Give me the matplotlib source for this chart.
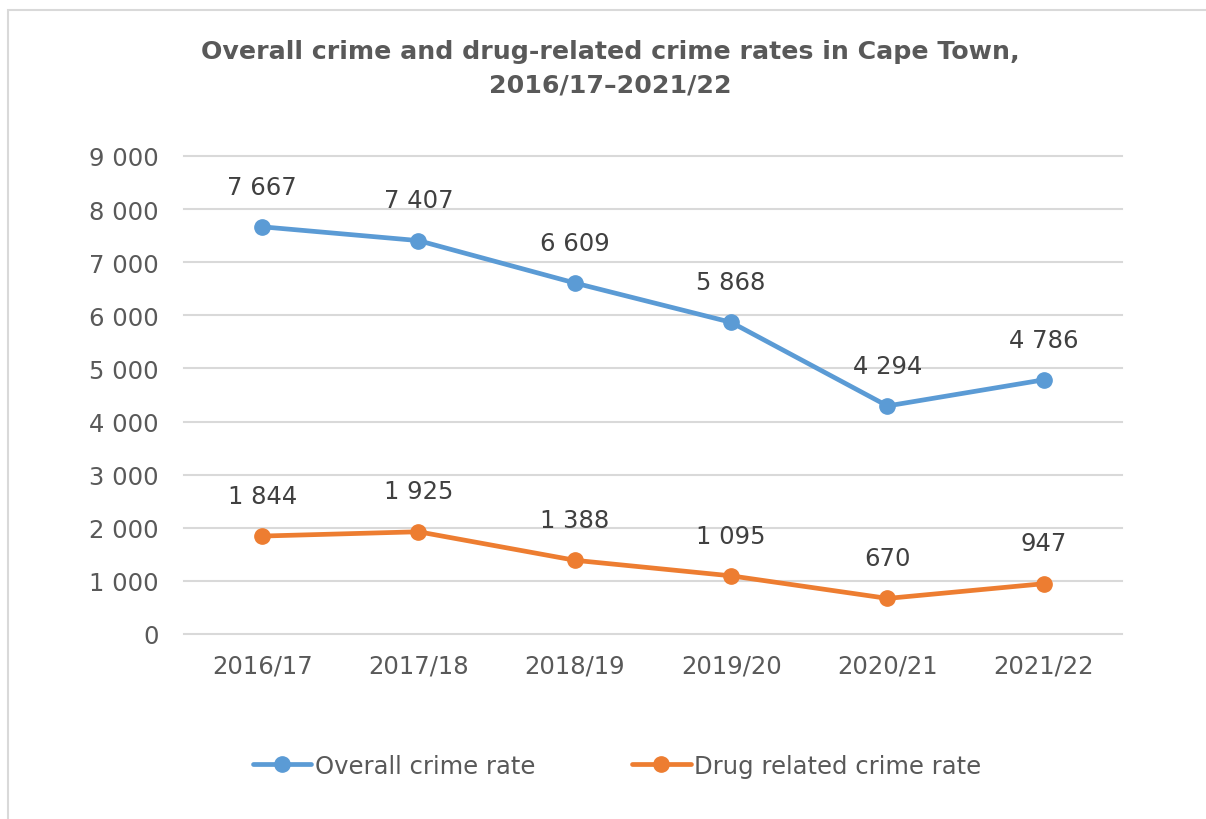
import matplotlib
matplotlib.use("Agg")
import matplotlib.pyplot as plt
from matplotlib.patches import Rectangle

years = ["2016/17", "2017/18", "2018/19", "2019/20", "2020/21", "2021/22"]
overall = [7667, 7407, 6609, 5868, 4294, 4786]
drug = [1844, 1925, 1388, 1095, 670, 947]
yticks = [0, 1000, 2000, 3000, 4000, 5000, 6000, 7000, 8000, 9000]

def fmt(v):
    return f"{v:,}".replace(",", " ")

W, H = 1206, 820
fig = plt.figure(figsize=(W / 100, H / 100), dpi=100)
plt.rcParams['font.family'] = ['DejaVu Sans']
gray = "#595959"

# outer chart border (cropped at right/bottom)
fig.patches.append(Rectangle((8 / W, -0.1), 1.2, (H - 11) / H + 0.1, transform=fig.transFigure,
                             fill=False, edgecolor="#D9D9D9", linewidth=1.5))

ax = fig.add_axes([184 / W, 1 - 635 / H, (1122 - 184) / W, (635 - 157) / H])
x = list(range(len(years)))
blue, orange = "#5B9BD5", "#ED7D31"
ax.plot(x, overall, color=blue, lw=3.4, marker="o", ms=11, label="Overall crime rate", solid_capstyle="round")
ax.plot(x, drug, color=orange, lw=3.4, marker="o", ms=11, label="Drug related crime rate", solid_capstyle="round")

for series in (overall, drug):
    for xi, v in zip(x, series):
        ax.annotate(fmt(v), (xi, v), xytext=(0, 29), textcoords="offset points", ha="center", va="center",
                    fontsize=17.5, color="#404040")

ax.set_xlim(-0.5, len(years) - 0.5)
ax.set_ylim(0, 9000)
ax.set_yticks(yticks)
ax.set_yticklabels([fmt(v) for v in yticks])
ax.set_xticks(x)
ax.set_xticklabels(years)
ax.tick_params(axis="both", length=0, labelsize=17.5, labelcolor=gray)
ax.tick_params(axis="y", pad=18)
ax.tick_params(axis="x", pad=14)
ax.grid(axis="y", color="#D9D9D9", lw=1.5, clip_on=False)
ax.set_axisbelow(True)
for s in ax.spines.values():
    s.set_visible(False)

fig.text(610 / W, 1 - 69 / H, "Overall crime and drug-related crime rates in Cape Town,\n2016/17\u20132021/22",
         ha="center", va="center", fontsize=18.2, fontweight="bold", color=gray, linespacing=1.5)

leg = fig.legend(loc="center", bbox_to_anchor=(617 / W, 1 - 767 / H), ncol=2, frameon=False,
                 fontsize=17.5, handlelength=2.4, columnspacing=4.0, handletextpad=0.15)
for t in leg.get_texts():
    t.set_color(gray)

fig.savefig("out.png", dpi=100)
